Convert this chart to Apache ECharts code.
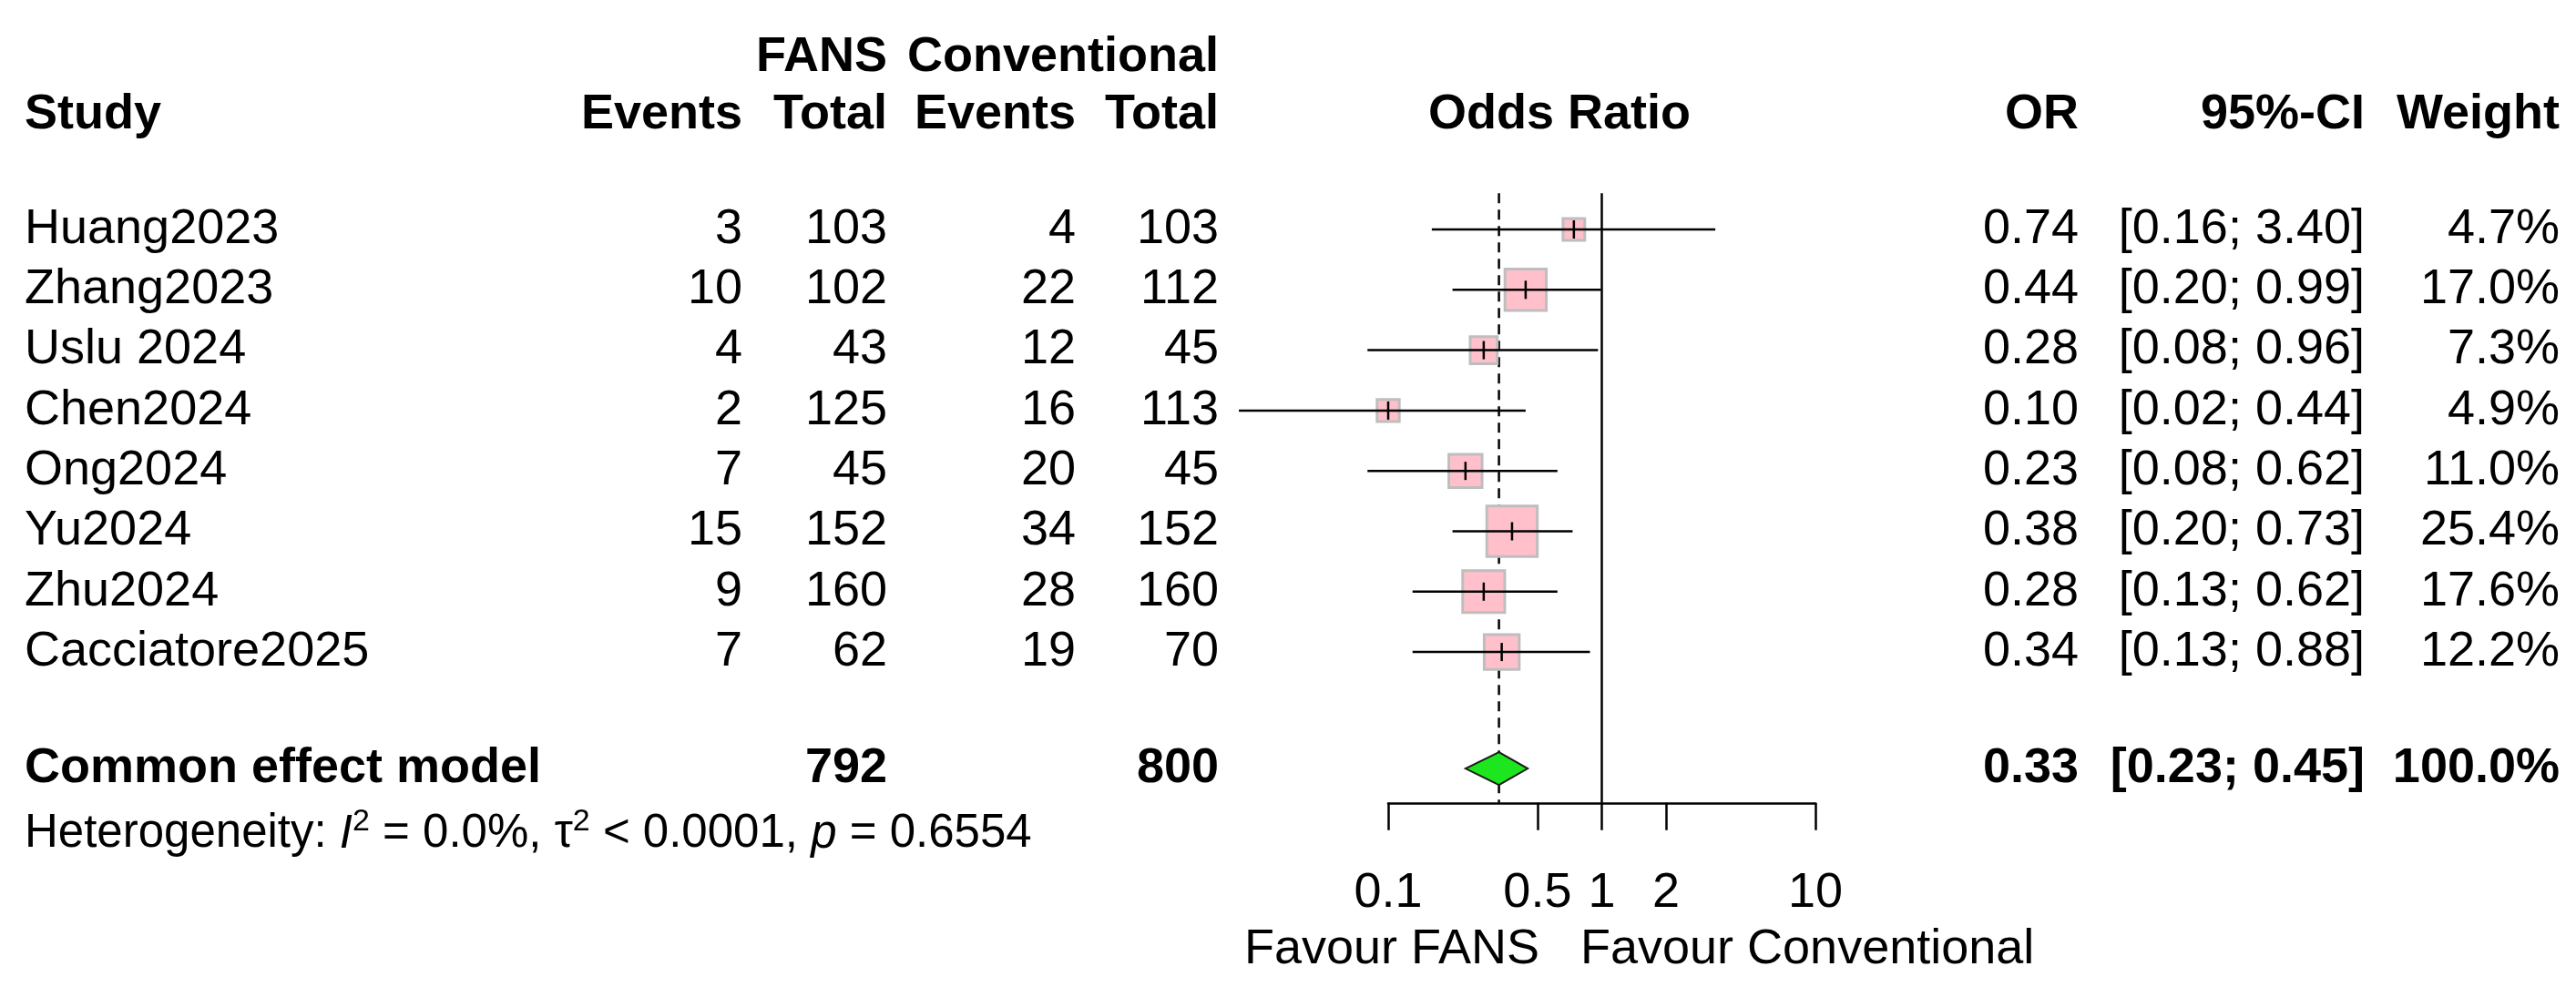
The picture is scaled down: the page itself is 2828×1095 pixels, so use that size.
<!DOCTYPE html>
<html><head><meta charset="utf-8">
<script src="https://cdn.jsdelivr.net/npm/echarts@6/dist/echarts.min.js"></script>
<style>html,body{margin:0;padding:0;background:#fff}#c{width:2828px;height:1095px}</style>
</head><body><div id="c"></div>
<script>
// ---------- data ----------
const studies    = ['Huang2023','Zhang2023','Uslu 2024','Chen2024','Ong2024','Yu2024','Zhu2024','Cacciatore2025'];
const fansEvents = [3, 10, 4, 2, 7, 15, 9, 7];
const fansTotal  = [103, 102, 43, 125, 45, 152, 160, 62];
const convEvents = [4, 22, 12, 16, 20, 34, 28, 19];
const convTotal  = [103, 112, 45, 113, 45, 152, 160, 70];
const orValues   = [0.74, 0.44, 0.28, 0.10, 0.23, 0.38, 0.28, 0.34];
const ciLower    = [0.16, 0.20, 0.08, 0.02, 0.08, 0.20, 0.13, 0.13];
const ciUpper    = [3.40, 0.99, 0.96, 0.44, 0.62, 0.73, 0.62, 0.88];
const weights    = [4.7, 17.0, 7.3, 4.9, 11.0, 25.4, 17.6, 12.2];
const pooledLabel = 'Common effect model';
const pooledOR = 0.33, pooledLower = 0.23, pooledUpper = 0.45;
const pooledFansTotal = 792, pooledConvTotal = 800, pooledWeight = 100.0;
const hetI2 = '0.0%', hetTau2 = '< 0.0001', hetP = '0.6554';
const xTicks = [0.1, 0.5, 1, 2, 10];
const refValue = 1;
const labelLeft = 'Favour FANS', labelRight = 'Favour Conventional';

// ---------- layout ----------
const W = 2828, H = 1095;
const ROW_PX = 66.3, ROW1_PX = 252;
const Y_MIN = -2.5, Y_MAX_TABLE = 13.5, Y_MAX_PLOT = 10.5;
const GRID_TOP = ROW1_PX + (Y_MIN - 1) * ROW_PX;
const FONT = '"Liberation Sans", Arial, Helvetica, sans-serif';
const FS = 54;
const col = {study: 27, fansEv: 815, fansTot: 974, convEv: 1181, convTot: 1338,
             orHead: 1712, or: 2282, ciHead: 2596, ci: 2596, w: 2810, favL: 1690, favR: 1735};
const rowHead1 = -1.85, rowHead2 = -0.9, rowPooled = 9.93, rowHet = 11.02, rowFav = 12.93;
const lineTop = 0.4;
const SQUARE_K = 11;

const f2 = v => v.toFixed(2);
const texts = [];
function T(x, r, text, align, bold, extra) {
  texts.push(Object.assign({x, r, text, align, bold: !!bold}, extra || {}));
}
// headers
T(col.fansTot, rowHead1, 'FANS', 'right', true);
T(col.convTot, rowHead1, 'Conventional', 'right', true);
T(col.study, rowHead2, 'Study', 'left', true);
T(col.fansEv, rowHead2, 'Events', 'right', true);
T(col.fansTot, rowHead2, 'Total', 'right', true);
T(col.convEv, rowHead2, 'Events', 'right', true);
T(col.convTot, rowHead2, 'Total', 'right', true);
T(col.orHead, rowHead2, 'Odds Ratio', 'center', true);
T(col.or, rowHead2, 'OR', 'right', true);
T(col.ciHead, rowHead2, '95%-CI', 'right', true);
T(col.w, rowHead2, 'Weight', 'right', true);
// studies
studies.forEach((s, i) => {
  const r = i + 1;
  T(col.study, r, s, 'left');
  T(col.fansEv, r, String(fansEvents[i]), 'right');
  T(col.fansTot, r, String(fansTotal[i]), 'right');
  T(col.convEv, r, String(convEvents[i]), 'right');
  T(col.convTot, r, String(convTotal[i]), 'right');
  T(col.or, r, f2(orValues[i]), 'right');
  T(col.ci, r, '[' + f2(ciLower[i]) + '; ' + f2(ciUpper[i]) + ']', 'right');
  T(col.w, r, weights[i].toFixed(1) + '%', 'right');
});
// pooled
T(col.study, rowPooled, pooledLabel, 'left', true);
T(col.fansTot, rowPooled, String(pooledFansTotal), 'right', true);
T(col.convTot, rowPooled, String(pooledConvTotal), 'right', true);
T(col.or, rowPooled, f2(pooledOR), 'right', true);
T(col.ci, rowPooled, '[' + f2(pooledLower) + '; ' + f2(pooledUpper) + ']', 'right', true);
T(col.w, rowPooled, pooledWeight.toFixed(1) + '%', 'right', true);
// heterogeneity
T(col.study, rowHet, 'Heterogeneity: {it|I}{sup|2} = ' + hetI2 + ', \u03c4{sup|2} ' + hetTau2 + ', {it|p} = ' + hetP, 'left', false, {rich: true});
// favour labels
T(col.favL, rowFav, labelLeft, 'right');
T(col.favR, rowFav, labelRight, 'left');

const HET_FS = 51, HET_LH = 61;
const richStyles = {
  it: {fontStyle: 'italic', fontSize: HET_FS, lineHeight: HET_LH, fontFamily: FONT, fill: '#000'},
  sup: {fontSize: 34, lineHeight: 34, fontFamily: FONT, verticalAlign: 'top', fill: '#000'}
};

const chart = echarts.init(document.getElementById('c'), null, {renderer: 'canvas', width: W, height: H});

const plotLeft = 1524, plotRight = 1993;

const option = {
  animation: false,
  backgroundColor: '#ffffff',
  textStyle: {fontFamily: FONT},
  grid: [
    {left: 0, top: GRID_TOP, width: W, height: (Y_MAX_TABLE - Y_MIN) * ROW_PX, containLabel: false},
    {left: plotLeft, top: GRID_TOP, width: plotRight - plotLeft, height: (Y_MAX_PLOT - Y_MIN) * ROW_PX, containLabel: false}
  ],
  xAxis: [
    {type: 'value', gridIndex: 0, min: 0, max: W, show: false},
    {type: 'log', logBase: 10, gridIndex: 1, min: xTicks[0], max: xTicks[xTicks.length - 1],
     position: 'bottom',
     axisLine: {show: true, onZero: false, lineStyle: {color: '#000', width: 2.5}},
     axisTick: {show: true, inside: false, customValues: xTicks, length: 30, lineStyle: {color: '#000', width: 2.5}},
     axisLabel: {show: true, customValues: xTicks, margin: 72, fontSize: FS, color: '#000', fontFamily: FONT,
                 formatter: v => String(+(+v).toPrecision(6))},
     splitLine: {show: false}, minorTick: {show: false}}
  ],
  yAxis: [
    {type: 'value', gridIndex: 0, min: Y_MIN, max: Y_MAX_TABLE, inverse: true, show: false},
    {type: 'value', gridIndex: 1, min: Y_MIN, max: Y_MAX_PLOT, inverse: true, show: false}
  ],
  series: [
    // reference lines (no effect, common effect)
    {
      type: 'custom', xAxisIndex: 1, yAxisIndex: 1, clip: false, z: 1,
      data: [[refValue, 0], [pooledOR, 1]],
      renderItem: (params, api) => {
        const v = api.value(0), dashed = api.value(1) === 1;
        const a = api.coord([v, lineTop]), b = api.coord([v, Y_MAX_PLOT]);
        return {type: 'line', shape: {x1: a[0], y1: a[1], x2: b[0], y2: b[1]},
                style: {stroke: '#000', lineWidth: 2.5, lineDash: dashed ? [11, 7] : null}};
      }
    },
    // studies
    {
      type: 'custom', xAxisIndex: 1, yAxisIndex: 1, clip: false, z: 2,
      data: studies.map((s, i) => [orValues[i], ciLower[i], ciUpper[i], weights[i], i + 1]),
      encode: {x: [0, 1, 2], y: 4},
      renderItem: (params, api) => {
        const or = api.value(0), lo = api.value(1), hi = api.value(2), w = api.value(3), r = api.value(4);
        const c = api.coord([or, r]), a = api.coord([lo, r]), b = api.coord([hi, r]);
        const s = SQUARE_K * Math.sqrt(w);
        return {type: 'group', children: [
          {type: 'rect', shape: {x: c[0] - s / 2, y: c[1] - s / 2, width: s, height: s},
           style: {fill: '#FFC0CB', stroke: '#BEBEBE', lineWidth: 3}},
          {type: 'line', shape: {x1: a[0], y1: a[1], x2: b[0], y2: b[1]}, style: {stroke: '#000', lineWidth: 2.5}},
          {type: 'line', shape: {x1: c[0], y1: c[1] - 10, x2: c[0], y2: c[1] + 10}, style: {stroke: '#000', lineWidth: 2.5}}
        ]};
      }
    },
    // pooled diamond
    {
      type: 'custom', xAxisIndex: 1, yAxisIndex: 1, clip: false, z: 3,
      data: [[pooledOR, pooledLower, pooledUpper, rowPooled]],
      encode: {x: [0, 1, 2], y: 3},
      renderItem: (params, api) => {
        const or = api.value(0), lo = api.value(1), hi = api.value(2), r = api.value(3);
        const c = api.coord([or, r]), a = api.coord([lo, r]), b = api.coord([hi, r]);
        const h = 18;
        return {type: 'polygon', shape: {points: [[a[0], a[1]], [c[0], c[1] - h], [b[0], b[1]], [c[0], c[1] + h]]},
                style: {fill: '#1EE61E', stroke: '#1a1a1a', lineWidth: 2}};
      }
    },
    // table texts
    {
      type: 'custom', xAxisIndex: 0, yAxisIndex: 0, clip: false, z: 5,
      data: texts.map(t => [t.x, t.r]),
      renderItem: (params, api) => {
        const t = texts[params.dataIndex];
        const p = api.coord([api.value(0), api.value(1)]);
        const style = {text: t.text, x: 0, y: 0, align: t.align, verticalAlign: 'middle',
                       fontSize: t.rich ? HET_FS : FS, fontFamily: FONT, fontWeight: t.bold ? 'bold' : 'normal', fill: '#000'};
        if (t.rich) { style.rich = richStyles; style.lineHeight = HET_LH; }
        return {type: 'text', x: p[0], y: p[1], style};
      }
    }
  ]
};
chart.setOption(option);
</script>
</body></html>
